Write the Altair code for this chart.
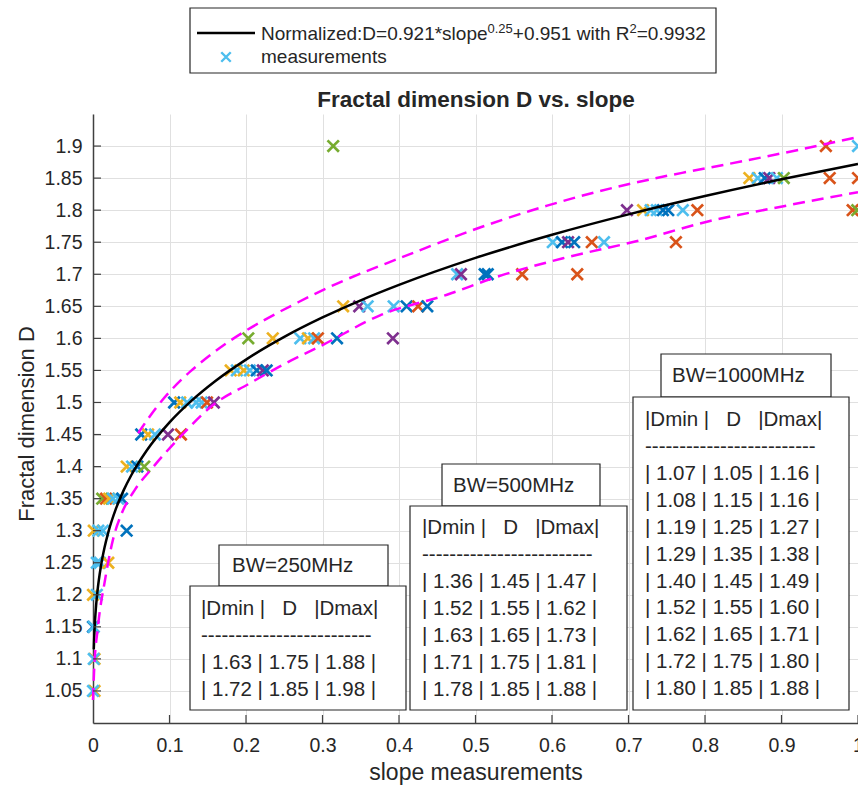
import altair as alt
import pandas as pd

FONT = "Liberation Sans"
TXT = "#262626"

# ---------------- data ----------------
# measured D levels and the slopes of the markers on each level
D_levels = [1.9, 1.85, 1.8, 1.75, 1.7, 1.65, 1.6, 1.55, 1.5, 1.45, 1.4, 1.35, 1.3, 1.25, 1.2, 1.15, 1.1, 1.05]
slopes_by_level = [
    [0.314, 0.958, 1.0],
    [0.858, 0.869, 0.878, 0.884, 0.894, 0.903, 0.963, 1.0],
    [0.698, 0.719, 0.729, 0.737, 0.745, 0.752, 0.771, 0.790, 0.993, 0.999],
    [0.601, 0.613, 0.621, 0.629, 0.652, 0.668, 0.762],
    [0.476, 0.481, 0.512, 0.516, 0.561, 0.633],
    [0.327, 0.348, 0.359, 0.393, 0.410, 0.425, 0.437],
    [0.203, 0.235, 0.271, 0.281, 0.289, 0.294, 0.319, 0.392],
    [0.180, 0.188, 0.197, 0.205, 0.214, 0.222, 0.227],
    [0.106, 0.114, 0.123, 0.135, 0.142, 0.149, 0.158],
    [0.063, 0.072, 0.081, 0.098, 0.115],
    [0.044, 0.051, 0.058, 0.067],
    [0.012, 0.017, 0.021, 0.026, 0.033, 0.038],
    [0.001, 0.007, 0.013, 0.044],
    [0.005, 0.009, 0.020],
    [0.000, 0.005],
    [0.000, 0.001],
    [0.002, 0.001],
    [0.002, 0.000],
]
# colour group of each marker (B blue, O orange, Y yellow, P purple, G green, L light blue)
groups_by_level = [
    "GOL", "YLBPLGOO", "PYLLBBLOOG", "LBPBOLO", "LPBBOO", "YPLLBOB", "GYLYLOBP",
    "YLYLBPB", "BYLLLOP", "BYLPO", "YLBG", "GOYLLB", "YLLB", "LLY", "YL", "BL", "YL", "YL",
]
group_codes = ["B", "O", "Y", "P", "G", "L"]
group_colors = ["#0072BD", "#D95319", "#EDB120", "#7E2F8E", "#77AC30", "#4DBEEE"]

# fitted curve D = 0.921*slope^0.25 + 0.951
fit_slope = [0.001, 0.002, 0.004, 0.006, 0.01, 0.015, 0.02, 0.03, 0.04, 0.05, 0.07, 0.1, 0.13,
             0.16, 0.2, 0.25, 0.3, 0.35, 0.4, 0.5, 0.6, 0.7, 0.8, 0.9, 1.0]
fit_D = [1.1148, 1.1458, 1.1826, 1.2073, 1.2422, 1.2733, 1.2974, 1.3343, 1.3629, 1.3865, 1.4247,
         1.4689, 1.5040, 1.5335, 1.5669, 1.6023, 1.6326, 1.6594, 1.6834, 1.7255, 1.7616, 1.7934,
         1.8220, 1.8481, 1.8720]

# dashed bounds
upper_slope = [0.059, 0.088, 0.127, 0.170, 0.214, 0.267, 0.327, 0.388, 0.428, 0.506, 0.594, 0.680, 0.767, 0.872, 1.0]
upper_D = [1.452, 1.503, 1.550, 1.590, 1.623, 1.656, 1.691, 1.719, 1.738, 1.774, 1.808, 1.836, 1.858, 1.881, 1.914]
lower_slope = [0.0, 0.0013, 0.0065, 0.0157, 0.0261, 0.0379, 0.0549, 0.0784, 0.1137, 0.1569, 0.2052, 0.2484,
               0.3007, 0.3752, 0.4627, 0.5281, 0.6144, 0.7150, 0.8026, 0.8889, 1.0]
lower_D = [1.036, 1.078, 1.150, 1.223, 1.286, 1.328, 1.364, 1.399, 1.446, 1.496, 1.530, 1.559,
           1.590, 1.636, 1.668, 1.696, 1.725, 1.753, 1.782, 1.803, 1.828]

x_ticks = [0, 0.1, 0.2, 0.3, 0.4, 0.5, 0.6, 0.7, 0.8, 0.9, 1]
y_ticks = [1.05, 1.1, 1.15, 1.2, 1.25, 1.3, 1.35, 1.4, 1.45, 1.5, 1.55, 1.6, 1.65, 1.7, 1.75, 1.8, 1.85, 1.9]

legend_fit = ["Normalized:D=0.921*slope", "0.25", "+0.951 with R", "2", "=0.9932"]
legend_meas = "measurements"
title_text = "Fractal dimension D vs. slope"
x_title = "slope measurements"
y_title = "Fractal dimension D"

header = "|Dmin |\u00a0\u00a0\u00a0D\u00a0\u00a0\u00a0|Dmax|"
dashes = "-" * 25
table_250 = [[1.63, 1.75, 1.88], [1.72, 1.85, 1.98]]
table_500 = [[1.36, 1.45, 1.47], [1.52, 1.55, 1.62], [1.63, 1.65, 1.73], [1.71, 1.75, 1.81], [1.78, 1.85, 1.88]]
table_1000 = [[1.07, 1.05, 1.16], [1.08, 1.15, 1.16], [1.19, 1.25, 1.27], [1.29, 1.35, 1.38],
              [1.40, 1.45, 1.49], [1.52, 1.55, 1.60], [1.62, 1.65, 1.71], [1.72, 1.75, 1.80],
              [1.80, 1.85, 1.88]]

# ---------------- build tables ----------------
rows = []
for lvl, sl, gs in zip(D_levels, slopes_by_level, groups_by_level):
    for s, g in zip(sl, gs):
        rows.append({"slope": s, "D": lvl, "grp": g})
meas = pd.DataFrame(rows)
fit = pd.DataFrame({"slope": fit_slope, "D": fit_D})
upper = pd.DataFrame({"slope": upper_slope, "D": upper_D})
lower = pd.DataFrame({"slope": lower_slope, "D": lower_D})

W, H = 765, 609
xs = alt.Scale(domain=[0, 1], nice=False, zero=False)
ys = alt.Scale(domain=[1.0, 1.95], nice=False, zero=False)
x_axis = alt.Axis(values=x_ticks, format="~g", title=None, ticks=False, labelFlush=False,
                  labelPadding=13, grid=True)
y_axis = alt.Axis(values=y_ticks, format="~g", title=None, ticks=False, labelPadding=11, grid=True)


def X():
    return alt.X("slope:Q", scale=xs, axis=x_axis)


def Y():
    return alt.Y("D:Q", scale=ys, axis=y_axis)


XPATH = "M-1,-1L1,1M-1,1L1,-1"

points = alt.Chart(meas).mark_point(shape=XPATH, size=130, strokeWidth=2.7, filled=False, opacity=1).encode(
    x=X(), y=Y(),
    color=alt.Color("grp:N", scale=alt.Scale(domain=group_codes, range=group_colors), legend=None),
)
fit_line = alt.Chart(fit).mark_line(color="black", strokeWidth=2.5, interpolate="monotone").encode(x=X(), y=Y())
up_line = alt.Chart(upper).mark_line(color="#FF00FF", strokeWidth=2.5, strokeDash=[12, 7], interpolate="basis").encode(x=X(), y=Y())
lo_line = alt.Chart(lower).mark_line(color="#FF00FF", strokeWidth=2.5, strokeDash=[12, 7], interpolate="monotone").encode(x=X(), y=Y())

ytick_df = pd.DataFrame({"D": y_ticks})
xtick_df = pd.DataFrame({"slope": x_ticks[1:]})
yticks_in = alt.Chart(ytick_df).mark_rule(color="#404040", strokeWidth=1.2).encode(
    y=Y(), x=alt.value(0), x2=alt.value(8))
xticks_in = alt.Chart(xtick_df).mark_rule(color="#404040", strokeWidth=1.2).encode(
    x=X(), y=alt.value(H), y2=alt.value(H - 8))

one = pd.DataFrame({"k": [0]})


def txt(s, x, y, size=20, weight="normal", align="left", baseline="alphabetic", angle=0, lh=27):
    return alt.Chart(one).mark_text(text=s, align=align, baseline=baseline, fontSize=size, fontWeight=weight,
                                    font=FONT, color=TXT, angle=angle, lineHeight=lh).encode(
        x=alt.value(x), y=alt.value(y))


def box(x1, y1, x2, y2):
    return alt.Chart(one).mark_rect(fill="white", stroke="#262626", strokeWidth=1.2).encode(
        x=alt.value(x1), x2=alt.value(x2), y=alt.value(y1), y2=alt.value(y2))


def table_lines(tab):
    return [header, dashes] + ["| " + " | ".join(f"{v:.2f}" for v in r) + " |" for r in tab]


OX, OY = 93, 114  # view origin in page pixels
TS = 20.5
LH = 26.9


def tbl_text(lines, left, first_center):
    return txt(lines, left - OX, first_center - OY - 0.43 * TS, size=TS, baseline="top", lh=LH)


layers = [
    points, fit_line, up_line, lo_line, yticks_in, xticks_in,
    # BW=250MHz
    box(219 - OX, 545 - OY, 388 - OX, 586 - OY),
    txt("BW=250MHz", 232 - OX, 566 - OY, size=TS, baseline="middle"),
    box(190 - OX, 586 - OY, 406 - OX, 710 - OY),
    tbl_text(table_lines(table_250), 201, 608),
    # BW=500MHz
    box(442 - OX, 464 - OY, 600 - OX, 506 - OY),
    txt("BW=500MHz", 453 - OX, 486 - OY, size=TS, baseline="middle"),
    box(410 - OX, 506 - OY, 627 - OX, 710 - OY),
    tbl_text(table_lines(table_500), 422, 527),
    # BW=1000MHz
    box(661 - OX, 354 - OY, 831 - OX, 397 - OY),
    txt("BW=1000MHz", 672 - OX, 376 - OY, size=TS, baseline="middle"),
    box(633 - OX, 397 - OY, 849 - OX, 710 - OY),
    tbl_text(table_lines(table_1000), 645, 419),
    # titles
    txt(title_text, 476 - OX, 107 - OY, size=22.5, weight="bold", align="center"),
    txt(x_title, 476 - OX, 780 - OY, size=23, align="center"),
    txt(y_title, 34 - OX, 424 - OY, size=22, align="center", angle=270),
    # legend
    box(190 - OX, 8 - OY, 716 - OX, 73 - OY),
    alt.Chart(one).mark_rule(color="black", strokeWidth=2.5).encode(
        x=alt.value(197 - OX), x2=alt.value(255 - OX), y=alt.value(33 - OY)),
    alt.Chart(one).mark_point(shape=XPATH, size=90, strokeWidth=2.4, filled=False, color="#4DBEEE", opacity=1).encode(
        x=alt.value(226 - OX), y=alt.value(57 - OY)),
    txt(legend_meas, 261 - OX, 63 - OY, size=19),
]

# legend fit text with superscripts (positions estimated from Arial metrics)
fs, fss = 19, 13
x0 = 261 - OX
bl = 40 - OY
w_units = [11921, 1946, 6142, 556, 3642]
sizes = [fs, fss, fs, fss, fs]
raise_ = [0, 7, 0, 7, 0]
cx = x0
for part, wu, sz, r in zip(legend_fit, w_units, sizes, raise_):
    layers.append(txt(part, cx, bl - r, size=sz))
    cx += wu * sz / 1000.0

chart = alt.layer(*layers).properties(
    width=W, height=H,
    padding={"left": OX, "top": OY, "right": 858 - OX - W, "bottom": 787 - OY - H},
    autosize=alt.AutoSizeParams(type="none"),
).configure_view(stroke=None).configure_axis(
    domainColor="#404040", domainWidth=1.5, gridColor="#e0e0e0", gridWidth=1,
    labelFont=FONT, labelFontSize=19.5, labelColor=TXT,
)

chart.save("out.html", embed_options={"renderer": "svg", "actions": False})
